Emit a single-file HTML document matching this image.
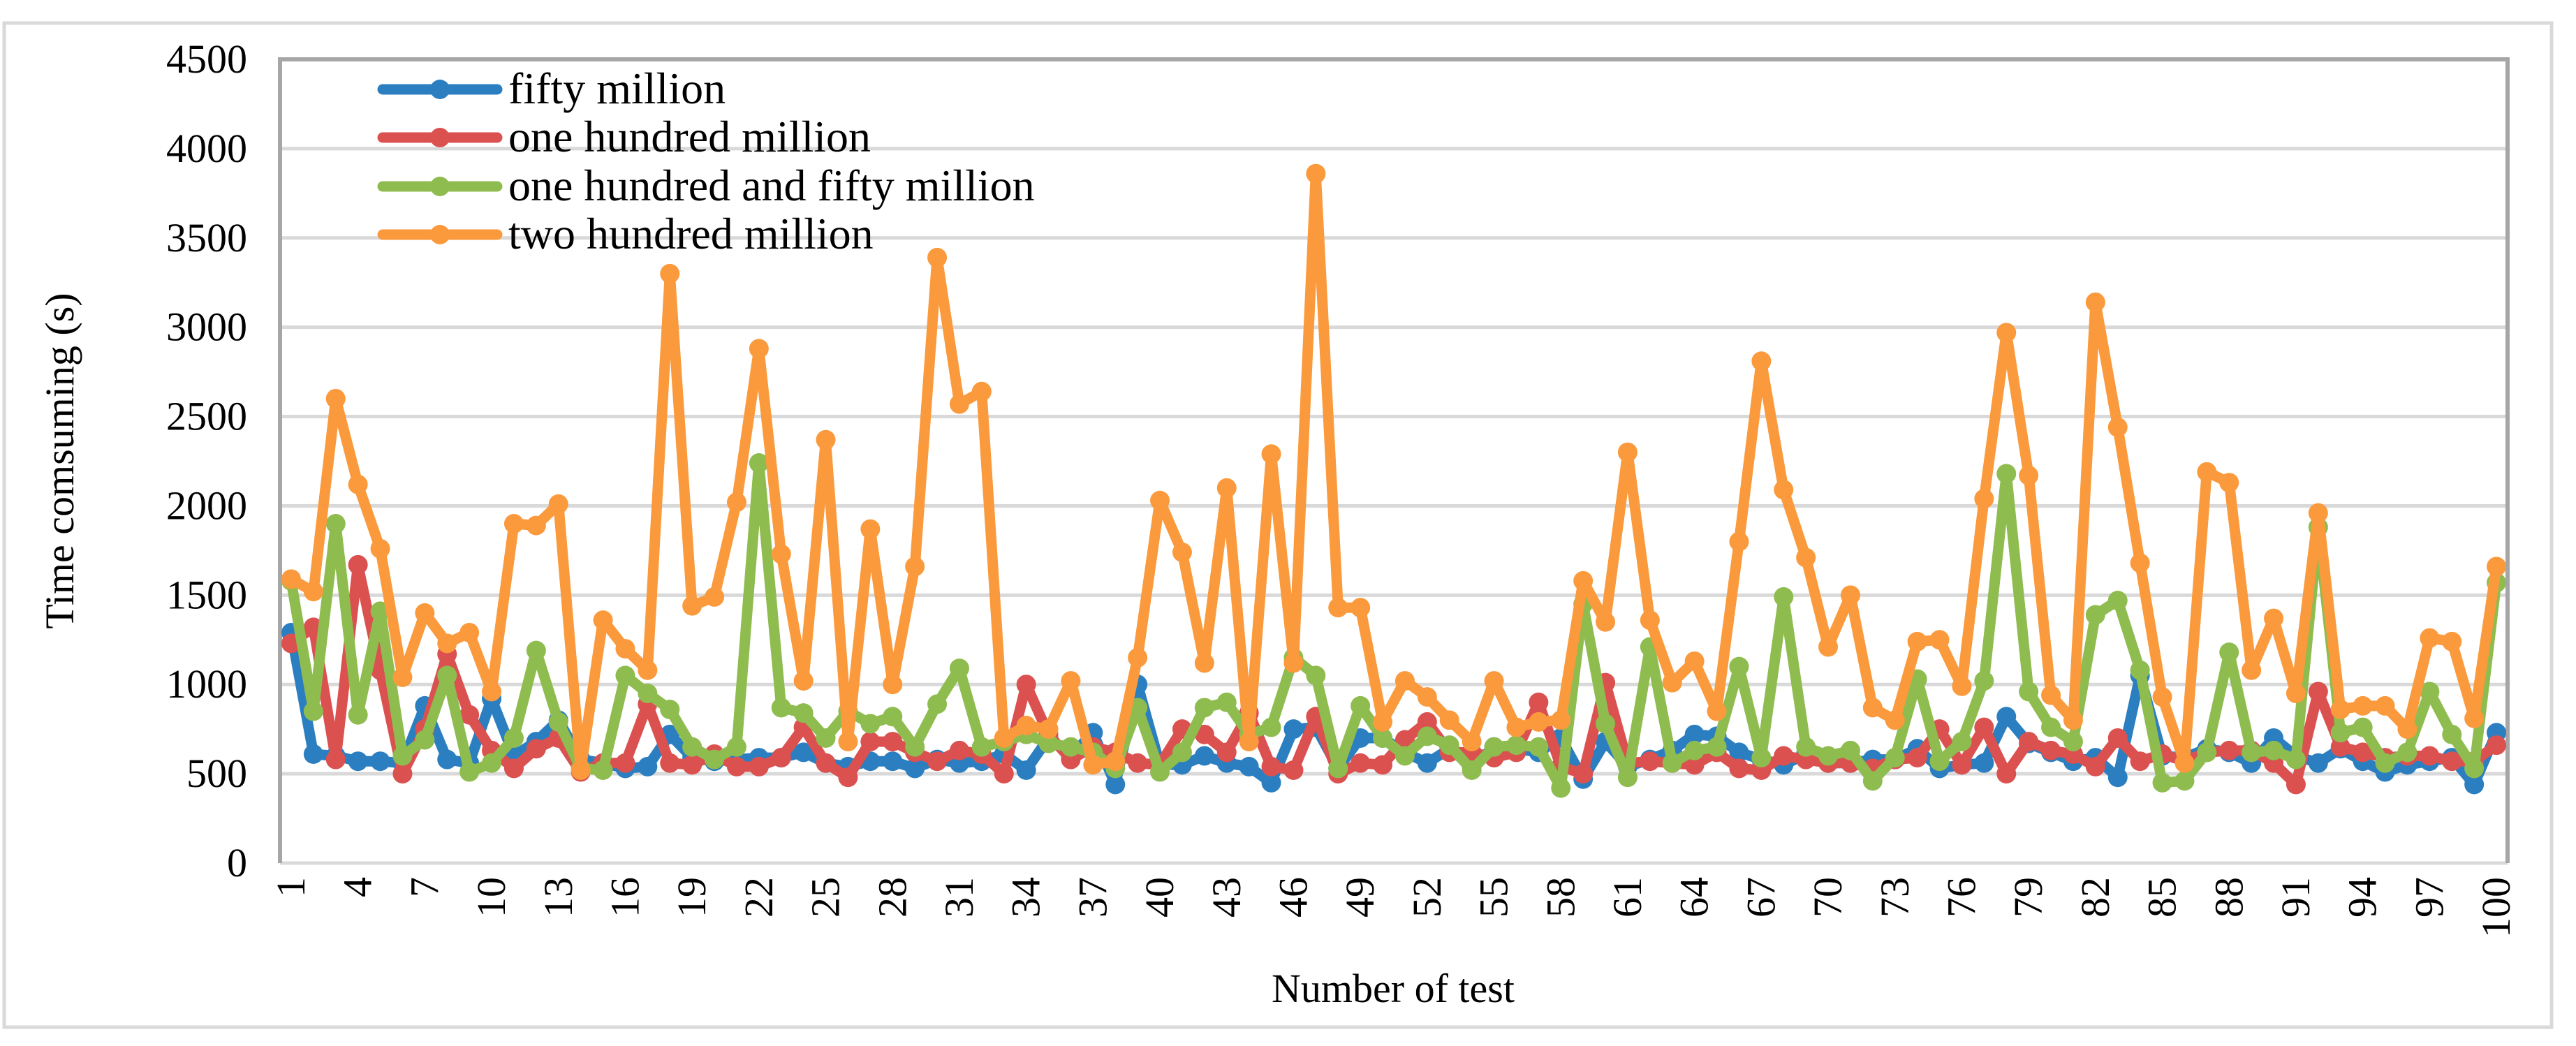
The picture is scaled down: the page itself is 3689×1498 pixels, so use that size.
<!DOCTYPE html>
<html><head><meta charset="utf-8"><style>
html,body{margin:0;padding:0;background:#fff;}
svg{display:block;}
svg text{font-family:"Liberation Serif","Times New Roman","DejaVu Serif",serif;fill:#000;}
</style></head><body>
<svg id="chart" width="3689" height="1498" viewBox="0 0 3689 1498" xmlns="http://www.w3.org/2000/svg">
<rect x="6" y="33" width="3648" height="1438" fill="#fff" stroke="#d9d9d9" stroke-width="5"/>
<g id="grid"></g>
<g id="yticks"></g>
<g id="xticks"></g>
<g id="series"></g>
<text font-family="Liberation Serif, serif" x="0" y="0" font-size="58" text-anchor="middle" transform="translate(105,660) rotate(-90)">Time comsuming (s)</text>
<text font-family="Liberation Serif, serif" x="1995" y="1435" font-size="58" text-anchor="middle">Number of test</text>
<g id="legend"></g>
</svg>
<script>
const categories = Array.from({length:100},(_,i)=>String(i+1));
const seriesNames = ["fifty million","one hundred million","one hundred and fifty million","two hundred million"];
const seriesColors = ["#2b7fc1","#da5150","#8fbc4f","#fa9a3c"];
const yTicks = [0,500,1000,1500,2000,2500,3000,3500,4000,4500];
const fiftyMillion = [1290,610,600,570,570,560,880,580,560,920,600,680,800,580,560,530,540,720,590,570,580,590,590,620,560,540,570,570,530,580,560,570,610,520,700,600,730,440,1000,550,550,600,560,540,450,750,760,530,700,700,620,560,640,540,650,640,620,700,470,680,540,580,630,720,710,620,580,550,610,560,560,580,580,640,530,550,560,820,670,620,570,590,480,1050,600,590,640,620,560,700,600,560,640,570,510,550,570,590,440,730];
const oneHundredMillion = [1230,1320,580,1670,1080,500,750,1170,830,630,530,640,700,510,560,560,890,560,550,610,540,540,590,760,560,480,680,680,620,570,630,610,500,1000,720,580,650,620,560,550,750,720,620,840,540,520,820,500,560,550,690,790,620,620,590,620,900,540,500,1010,560,570,560,550,620,530,520,600,580,560,560,530,580,590,750,550,760,500,680,630,610,540,700,570,610,570,620,630,630,560,440,960,650,620,590,600,600,570,570,660];
const oneHundredFiftyMillion = [1580,850,1900,830,1410,600,690,1050,510,560,700,1190,790,530,520,1050,950,860,650,580,650,2240,870,840,700,850,780,820,650,890,1090,650,680,720,670,650,620,530,870,510,620,870,900,720,760,1150,1050,530,880,700,600,710,660,520,650,660,650,420,1450,780,480,1210,560,630,650,1100,590,1490,650,600,630,460,590,1030,570,680,1020,2180,960,760,680,1390,1470,1080,450,460,620,1180,620,630,580,1880,730,760,560,620,960,720,530,1570];
const twoHundredMillion = [1590,1520,2600,2120,1760,1040,1400,1230,1290,960,1900,1890,2010,520,1360,1200,1080,3300,1440,1490,2020,2880,1730,1020,2370,680,1870,1000,1660,3390,2570,2640,700,770,750,1020,550,570,1150,2030,1740,1120,2100,680,2290,1120,3860,1430,1430,790,1020,930,800,680,1020,760,790,800,1580,1350,2300,1360,1010,1130,850,1800,2810,2090,1710,1210,1500,870,800,1240,1250,990,2040,2970,2170,940,800,3140,2440,1680,930,560,2190,2130,1080,1370,950,1960,860,880,880,750,1260,1240,810,1660];
const allSeries = [fiftyMillion,oneHundredMillion,oneHundredFiftyMillion,twoHundredMillion];
const xLabelEvery = 3;

const NS="http://www.w3.org/2000/svg";
const L=401,R=3591,T=85,B=1236,YMAX=4500;
const bw=(R-L)/categories.length;
function xPos(i){return L+bw*(i+0.5);}
function yPos(v){return B-(v/YMAX)*(B-T);}
function mk(tag,attrs,parent){const e=document.createElementNS(NS,tag);for(const k in attrs)e.setAttribute(k,attrs[k]);parent.appendChild(e);return e;}
const FF="Liberation Serif, Times New Roman, serif";

const grid=document.getElementById('grid');
yTicks.forEach(t=>{
  const ln=mk('line',{x1:L,x2:R,y1:yPos(t),y2:yPos(t),stroke:'#d9d9d9','stroke-width':5},grid);
  
  
});
const ax=mk('path',{d:`M${L},${B} L${L},${T} L${R},${T} L${R},${B}`,fill:'none',stroke:'#a6a6a6','stroke-width':6},grid);



const yt=document.getElementById('yticks');
yTicks.forEach(t=>{
  const tx=mk('text',{x:354,y:yPos(t)+19,'font-size':58,'text-anchor':'end','font-family':FF},yt);
  tx.textContent=t;
  
  
});
const xt=document.getElementById('xticks');
categories.forEach((c,i)=>{
  if(i%xLabelEvery!==0)return;
  const x=xPos(i);
  const tx=mk('text',{x:0,y:0,'font-size':58,'text-anchor':'end','font-family':FF,transform:`translate(${x+19},${B+20}) rotate(-90)`},xt);
  tx.textContent=c;
  
  
});

const sg=document.getElementById('series');
allSeries.forEach((vals,si)=>{
  const g=mk('g',{},sg);
  
  
  const pts=vals.map((v,i)=>xPos(i).toFixed(1)+','+yPos(v).toFixed(1)).join(' ');
  const pl=mk('polyline',{points:pts,fill:'none',stroke:seriesColors[si],'stroke-width':15,'stroke-linejoin':'round'},g);
  
  
  vals.forEach((v,i)=>{
    const c=mk('circle',{cx:xPos(i),cy:yPos(v),r:14,fill:seriesColors[si]},g);
    
    
  });
});

const lg=document.getElementById('legend');
const legY=[128,197,267,336];
seriesNames.forEach((n,i)=>{
  const g=mk('g',{},lg);
  
  
  mk('line',{x1:548,x2:712,y1:legY[i],y2:legY[i],stroke:seriesColors[i],'stroke-width':15,'stroke-linecap':'round'},g);
  mk('circle',{cx:630,cy:legY[i],r:14,fill:seriesColors[i]},g);
  const tx=mk('text',{x:728,y:legY[i]+20,'font-size':64,'font-family':FF},g);
  tx.textContent=n;
});
</script>
</body></html>
